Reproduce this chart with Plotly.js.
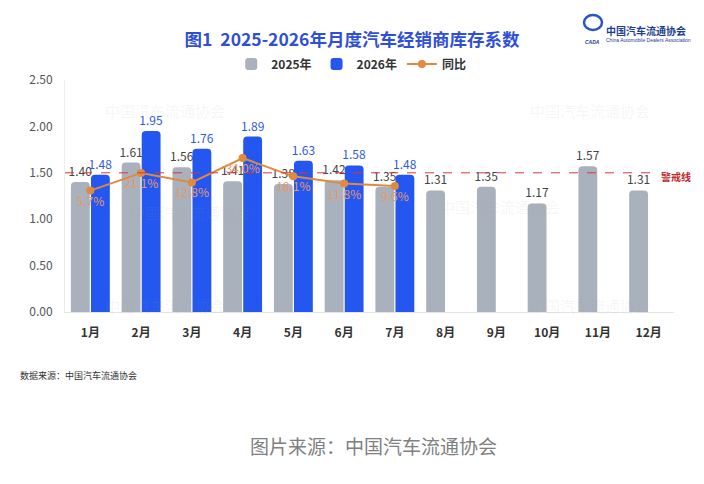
<!DOCTYPE html>
<html>
<head>
<meta charset="utf-8">
<script src="https://cdn.plot.ly/plotly-3.0.1.min.js"></script>
<style>
  html, body { margin: 0; padding: 0; background: #fff; }
  #chart { width: 704px; height: 484px; }
</style>
</head>
<body>
<div id="chart"></div>
<script>
// 月度经销商库存系数
const months = ['1月', '2月', '3月', '4月', '5月', '6月', '7月', '8月', '9月', '10月', '11月', '12月'];
const stock2025 = [1.40, 1.61, 1.56, 1.41, 1.38, 1.42, 1.35, 1.31, 1.35, 1.17, 1.57, 1.31];
const stock2026 = [1.48, 1.95, 1.76, 1.89, 1.63, 1.58, 1.48];
const yoyMonths = ['1月', '2月', '3月', '4月', '5月', '6月', '7月'];
const yoy = [0.057, 0.211, 0.128, 0.340, 0.181, 0.118, 0.096];
const warnLevel = 1.5;

const FONT = '"Noto Sans CJK SC", "Noto Sans", sans-serif';
const GRAY = '#a9b1bc';
const BLUE = '#2457ef';
const ORANGE = '#e0893f';

const traces = [
    {
        type: 'bar',
        name: '2025年',
        x: months,
        y: stock2025,
        marker: { color: GRAY },
        texttemplate: '%{y:.2f}',
        textposition: 'outside',
        constraintext: 'none',
        textfont: { color: '#444', size: 12, family: FONT },
        cliponaxis: false,
        hoverinfo: 'x+y',
    },
    {
        type: 'bar',
        name: '2026年',
        x: months.slice(0, stock2026.length),
        y: stock2026,
        marker: { color: BLUE },
        texttemplate: '%{y:.2f}',
        textposition: 'outside',
        constraintext: 'none',
        textfont: { color: '#2e5be0', size: 12, family: FONT },
        cliponaxis: false,
        hoverinfo: 'x+y',
    },
    {
        type: 'scatter',
        name: '同比',
        x: yoyMonths,
        y: yoy,
        yaxis: 'y2',
        mode: 'lines+markers+text',
        line: { color: ORANGE, width: 2 },
        marker: { color: ORANGE, size: 8 },
        text: yoy.map(v => (v * 100).toFixed(1) + '%'),
        textposition: 'bottom center',
        textfont: { color: '#e79a62', size: 12, family: FONT },
        cliponaxis: false,
    },
];

// pixel helpers for paper-positioned notes (plot area 65..674 x 80..312)
const px = x => (x - 65) / 609;
const py = y => (312 - y) / 232;

const watermarks = [[165, 98], [590, 98], [190, 212], [500, 206], [165, 318], [590, 318]].map(([x, y]) => ({
    xref: 'paper', yref: 'paper', x: px(x), y: py(y), xanchor: 'center',
    text: '中国汽车流通协会', showarrow: false,
    font: { family: FONT, size: 15, color: 'rgba(160,160,160,0.11)' },
}));

const layout = {
    width: 704,
    height: 484,
    margin: { l: 65, r: 30, t: 80, b: 172 },
    paper_bgcolor: '#fff',
    plot_bgcolor: '#fff',
    font: { family: FONT, color: '#333' },
    title: {
        text: '图1  2025-2026年月度汽车经销商库存系数',
        x: 0.5, xref: 'container',
        y: 1 - 40 / 484, yanchor: 'middle',
        font: { family: FONT, size: 17.5, weight: 700, color: '#2f4fd6' },
    },
    showlegend: true,
    legend: {
        orientation: 'h',
        x: 0.47, xanchor: 'center',
        y: py(64), yanchor: 'middle',
        font: { family: FONT, size: 12, weight: 700, color: '#333' },
        itemwidth: 30,
    },
    barmode: 'group',
    bargap: 0.21,
    bargroupgap: 0.06,
    barcornerradius: 4,
    xaxis: {
        type: 'category',
        range: [-0.5, 11.5],
        showline: true,
        linecolor: '#e4e4e4',
        showgrid: false,
        ticks: '',
        tickfont: { family: FONT, size: 12, weight: 700, color: '#333' },
        ticklabelstandoff: 10,
    },
    yaxis: {
        range: [0, 2.5],
        dtick: 0.5,
        tickformat: '.2f',
        showgrid: false,
        zeroline: false,
        showline: true,
        linecolor: '#ececec',
        ticks: '',
        tickfont: { family: FONT, size: 12, color: '#555' },
        ticklabelstandoff: 9,
    },
    yaxis2: {
        overlaying: 'y',
        side: 'right',
        range: [-1.0, 1.02],
        visible: false,
    },
    shapes: [
        {
            type: 'line', xref: 'paper', yref: 'y',
            x0: 0, x1: px(657), y0: warnLevel, y1: warnLevel,
            line: { color: '#d9383a', width: 1, dash: 'dash' },
        },
        // association emblem (decoration)
        {
            type: 'circle', xref: 'paper', yref: 'paper',
            x0: px(584), x1: px(602), y0: py(30), y1: py(15),
            line: { color: '#2a55c8', width: 2.5 },
        },
    ],
    annotations: [
        ...watermarks,
        {
            xref: 'paper', yref: 'y', x: px(676), y: warnLevel, yshift: -4, xanchor: 'center',
            text: '警戒线', showarrow: false,
            font: { family: FONT, size: 10, weight: 700, color: '#c0282d' },
        },
        {
            xref: 'paper', yref: 'paper', x: px(18), y: py(384), xanchor: 'left',
            text: '数据来源：中国汽车流通协会', showarrow: false,
            font: { family: FONT, size: 9, color: '#333' },
        },
        {
            xref: 'paper', yref: 'paper', x: px(373), y: py(461), xanchor: 'center',
            text: '图片来源：中国汽车流通协会', showarrow: false,
            font: { family: FONT, size: 19, color: '#808080' },
        },
        {
            xref: 'paper', yref: 'paper', x: px(604), y: py(21), xanchor: 'left',
            text: '中国汽车流通协会', showarrow: false,
            font: { family: FONT, size: 10, weight: 700, color: '#1d3d95' },
        },
        {
            xref: 'paper', yref: 'paper', x: px(604), y: py(35), xanchor: 'left',
            text: 'China Automobile Dealers Association', showarrow: false,
            font: { family: '"Liberation Sans", sans-serif', size: 5, color: '#1d3d95' },
        },
        {
            xref: 'paper', yref: 'paper', x: px(592), y: py(37), xanchor: 'center',
            text: '<i><b>CADA</b></i>', showarrow: false,
            font: { family: '"Liberation Sans", sans-serif', size: 5, color: '#1d3d95' },
        },
    ],
};

Plotly.newPlot('chart', traces, layout, { displayModeBar: false, staticPlot: true });
</script>
</body>
</html>
